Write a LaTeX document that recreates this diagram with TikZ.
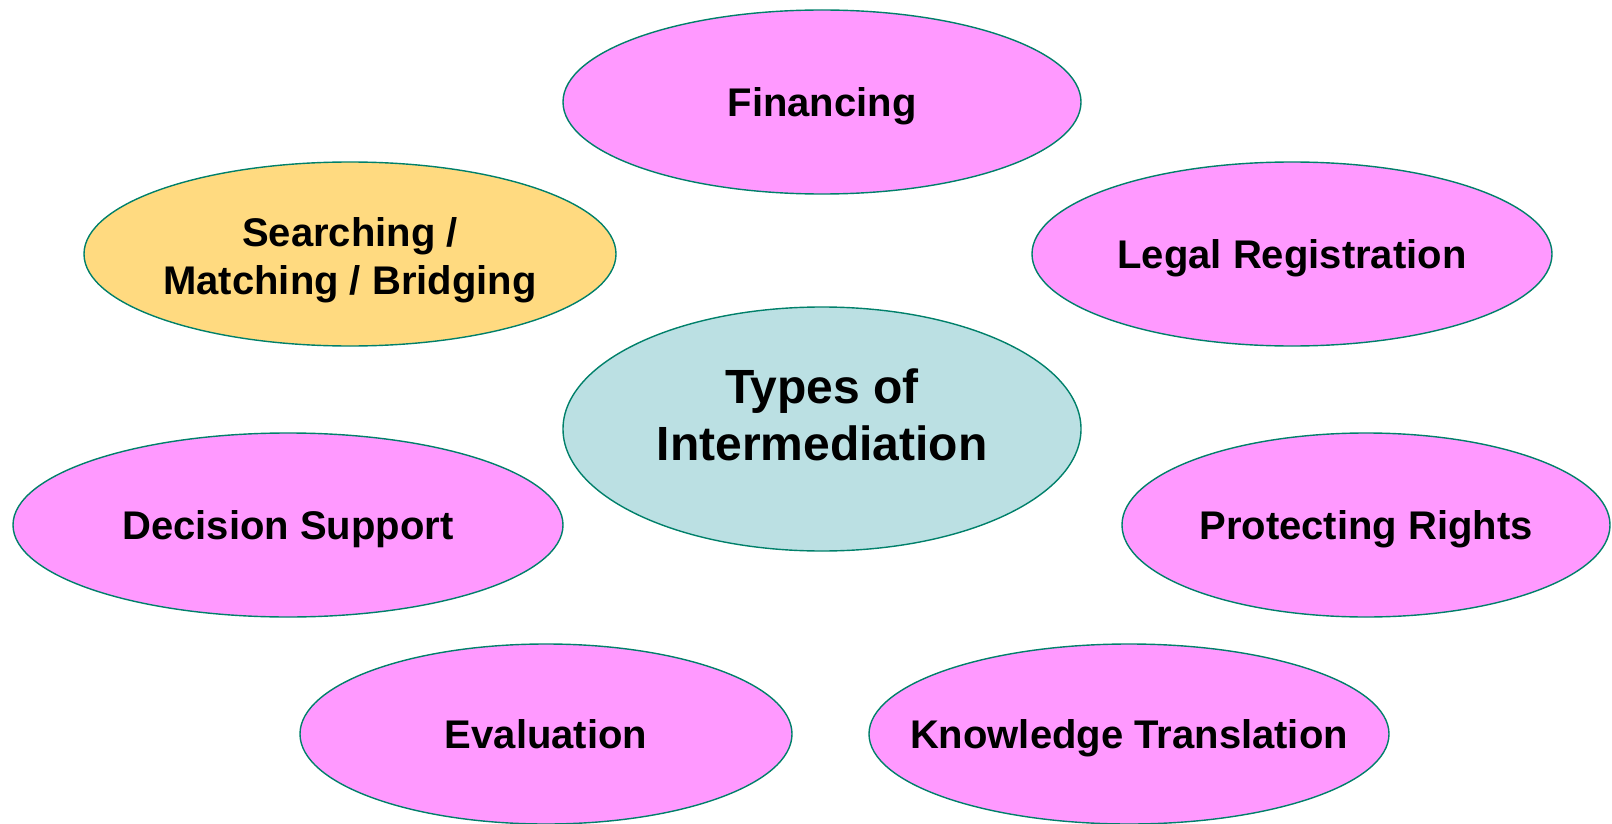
\documentclass[tikz,border=0pt]{standalone}
\usepackage{fontspec}
\setmainfont{Liberation Sans}
\usetikzlibrary{shapes.geometric}
\definecolor{petal}{HTML}{FF99FF}
\definecolor{sunny}{HTML}{FFDA80}
\definecolor{core}{HTML}{BBE0E3}
\definecolor{rim}{HTML}{00806A}

\begin{document}
\begin{tikzpicture}[x=1pt,y=-1pt]
        \tikzset{kind/.style={ellipse,draw=rim,line width=1.4pt,fill=petal,inner sep=0pt,
                inner xsep=-80pt,minimum width=520pt,minimum height=184pt,align=center,
                text height=32pt,text depth=3pt,
                font=\fontsize{40}{48}\selectfont\bfseries},
            hub/.style={kind,fill=core,minimum height=244pt},
            pick/.style={kind,fill=sunny},
            title/.style={align=center,inner sep=0pt,
                font=\fontsize{40}{48}\selectfont\bfseries},
            hubtitle/.style={title,font=\fontsize{48}{57}\selectfont\bfseries}}
        \useasboundingbox (0,0) rectangle (1612,824);
        \node[hub,minimum width=518pt] (types) at (822,429) {};
        \node[hubtitle] (typestitle) at (822,415) {Types of\\Intermediation};
        \node[kind,minimum width=518pt] (financing) at (822,102) {Financing};
        \node[pick,minimum width=532pt] (searching) at (350,254) {};
        \node[title] (searchingtitle) at (350,260) {Searching /\\Matching / Bridging};
        \node[kind,minimum width=520pt] (legal) at (1292,254) {Legal Registration};
        \node[kind,minimum width=550pt] (decision) at (288,525) {Decision Support};
        \node[kind,minimum width=488pt] (rights) at (1366,525) {Protecting Rights};
        \node[kind,minimum width=492pt,minimum height=180pt] (evaluation) at (546,734) {Evaluation};
        \node[kind,minimum height=180pt] (knowledge) at (1129,734) {Knowledge Translation};
    \end{tikzpicture}
\end{document}
